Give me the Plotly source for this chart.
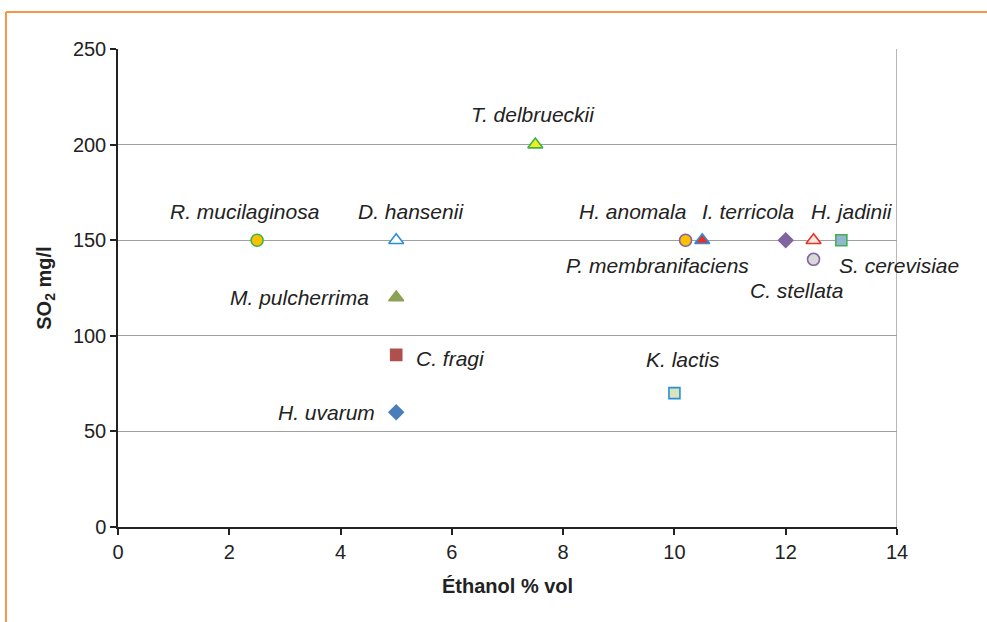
import plotly.graph_objects as go

# Yeast species: ethanol tolerance (% vol) vs SO2 tolerance (mg/l)
species = [
    "R. mucilaginosa", "D. hansenii", "T. delbrueckii", "M. pulcherrima",
    "C. fragi", "H. uvarum", "H. anomala", "P. membranifaciens",
    "I. terricola", "H. jadinii", "S. cerevisiae", "C. stellata", "K. lactis",
]
ethanol = [2.5, 5, 7.5, 5, 5, 5, 10.2, 10.5, 12, 12.5, 13, 12.5, 10]
so2 = [150, 150, 200, 120, 90, 60, 150, 150, 150, 150, 150, 140, 70]

x_ticks = [0, 2, 4, 6, 8, 10, 12, 14]
y_ticks = [0, 50, 100, 150, 200, 250]

GREEN = "#3cb44b"
BLUE = "#2a8fd8"
PURPLE = "#8064a2"
RED = "#e8302a"

# symbol, fill, outline for each species
styles = {
    "R. mucilaginosa": ("circle", "#ffc000", GREEN),
    "D. hansenii": ("triangle-up", "#ffffff", BLUE),
    "T. delbrueckii": ("triangle-up", "#f2ee1a", GREEN),
    "M. pulcherrima": ("triangle-up", "#8ca156", "#8ca156"),
    "C. fragi": ("square", "#b0504c", "#b0504c"),
    "H. uvarum": ("diamond", "#4a7ebb", "#4a7ebb"),
    "H. anomala": ("circle", "#ffc000", PURPLE),
    "P. membranifaciens": ("triangle-up", RED, BLUE),
    "I. terricola": ("diamond", PURPLE, PURPLE),
    "H. jadinii": ("triangle-up", "#fde9d9", RED),
    "S. cerevisiae": ("square", "#95b3d7", GREEN),
    "C. stellata": ("circle", "#d9d9d9", PURPLE),
    "K. lactis": ("square", "#d7e4bd", BLUE),
}

# label placement: (xanchor, xshift, yshift) relative to the point
label_pos = {
    "R. mucilaginosa": ("center", -13, 29),
    "D. hansenii": ("center", 15, 29),
    "T. delbrueckii": ("center", -2, 30),
    "M. pulcherrima": ("right", -25, 0),
    "C. fragi": ("left", 18, -4),
    "H. uvarum": ("right", -19, 0),
    "H. anomala": ("right", 2, 29),
    "P. membranifaciens": ("center", -45, -25),
    "I. terricola": ("center", -38, 29),
    "H. jadinii": ("left", -5, 29),
    "S. cerevisiae": ("left", -4, -25),
    "C. stellata": ("center", -17, -31),
    "K. lactis": ("center", 9, 34),
}

FONT = "Liberation Sans, Arial, sans-serif"

fig = go.Figure()
for name, xv, yv in zip(species, ethanol, so2):
    sym, fill, line = styles[name]
    size = 11 if sym in ("square", "diamond") else 12
    if sym == "triangle-up":
        size = 13
    fig.add_trace(go.Scatter(
        x=[xv], y=[yv], mode="markers", name=name, showlegend=False,
        marker=dict(symbol=sym, size=size, color=fill,
                    line=dict(color=line, width=1.6)),
    ))
    anchor, dx, dy = label_pos[name]
    fig.add_annotation(
        x=xv, y=yv, text=f"<i>{name}</i>", showarrow=False,
        xanchor=anchor, yanchor="middle", xshift=dx, yshift=dy,
        font=dict(family=FONT, size=21, color="#222222"),
    )

# axis titles
fig.add_annotation(
    x=0.5, y=-0.123, xref="paper", yref="paper", showarrow=False,
    text="<b>Éthanol % vol</b>", xanchor="center", yanchor="middle",
    font=dict(family=FONT, size=20, color="#222222"),
)
fig.add_annotation(
    x=-0.094, y=0.5, xref="paper", yref="paper", showarrow=False,
    text="<b>SO<sub>2</sub> mg/l</b>", textangle=-90,
    xanchor="center", yanchor="middle",
    font=dict(family=FONT, size=20, color="#222222"),
)

# right edge of the plot area
fig.add_shape(type="line", xref="x", yref="y", x0=14, x1=14, y0=0, y1=250,
              line=dict(color="#a0a0a0", width=1.5), layer="below")
# outer orange frame (top and left edges)
fig.add_shape(type="line", xref="paper", yref="paper",
              x0=-0.1438, x1=1.2, y0=1.0774, y1=1.0774,
              line=dict(color="#f79646", width=2))
fig.add_shape(type="line", xref="paper", yref="paper",
              x0=-0.1438, x1=-0.1438, y0=-0.25, y1=1.0774,
              line=dict(color="#f79646", width=2))

fig.update_xaxes(
    range=[0, 14], tickvals=x_ticks, showgrid=False, zeroline=False,
    showline=True, linecolor="#222222", linewidth=1.5,
    ticks="outside", ticklen=6, tickcolor="#222222", tickwidth=1.5,
    tickfont=dict(family=FONT, size=20, color="#222222"),
)
fig.update_yaxes(
    range=[0, 250], tickvals=y_ticks, showgrid=True, gridcolor="#a0a0a0",
    gridwidth=1.3, zeroline=False,
    showline=True, linecolor="#222222", linewidth=1.5,
    ticks="outside", ticklen=6, tickcolor="#222222", tickwidth=1.5,
    tickfont=dict(family=FONT, size=20, color="#222222"),
)

fig.update_layout(
    width=987, height=622,
    margin=dict(l=118, r=90, t=49, b=95),
    plot_bgcolor="white", paper_bgcolor="white",
)

fig.write_html("out.html")
